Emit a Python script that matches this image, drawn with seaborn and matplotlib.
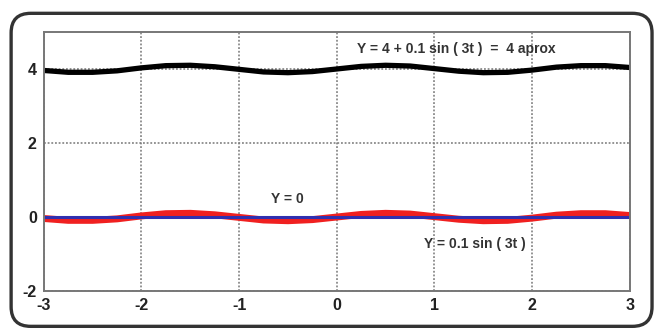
import numpy as np
import pandas as pd
import matplotlib
matplotlib.use("Agg")
import matplotlib.pyplot as plt
import seaborn as sns
from matplotlib.patches import FancyBboxPatch

# values
t = [-3.0, -2.75, -2.5, -2.25, -2.0, -1.75, -1.5, -1.25, -1.0, -0.75, -0.5, -0.25,
     0.0, 0.25, 0.5, 0.75, 1.0, 1.25, 1.5, 1.75, 2.0, 2.25, 2.5, 2.75, 3.0]
y_small = [-0.04, -0.09, -0.09, -0.05, 0.03, 0.09, 0.10, 0.06, -0.01, -0.08, -0.10, -0.07,
           0.00, 0.07, 0.10, 0.08, 0.01, -0.06, -0.10, -0.09, -0.03, 0.05, 0.09, 0.09, 0.04]
y_big = [3.96, 3.91, 3.91, 3.95, 4.03, 4.09, 4.10, 4.06, 3.99, 3.92, 3.90, 3.93,
         4.00, 4.07, 4.10, 4.08, 4.01, 3.94, 3.90, 3.91, 3.97, 4.05, 4.09, 4.09, 4.04]
y_zero = [0.0] * len(t)

xticks = [-3, -2, -1, 0, 1, 2, 3]
yticks = [-2, 0, 2, 4]

df = pd.DataFrame({"t": t, "small": y_small, "big": y_big, "zero": y_zero})

sns.set_style("white")
plt.rcParams['font.family'] = ['Liberation Sans', 'DejaVu Sans']
plt.rcParams['axes.unicode_minus'] = False

fig = plt.figure(figsize=(6.54, 3.33), dpi=100)
ax = fig.add_axes([0.067, 0.126, 0.896, 0.778])

# rounded outer frame
frame = FancyBboxPatch((0.017, 0.02), 0.98, 0.94, boxstyle="round,pad=0,rounding_size=0.03",
                       transform=fig.transFigure, fill=False, edgecolor="#333333",
                       linewidth=2.4, mutation_aspect=1.96)
fig.patches.append(frame)

sns.lineplot(data=df, x="t", y="big", ax=ax, color="black", linewidth=3.8)
sns.lineplot(data=df, x="t", y="small", ax=ax, color="#f02020", linewidth=5)
sns.lineplot(data=df, x="t", y="zero", ax=ax, color="#3030b0", linewidth=2.2)

ax.set_xlim(-3, 3)
ax.set_ylim(-2, 5)
ax.set_xticks(xticks)
ax.set_yticks(yticks)
ax.set_xlabel("")
ax.set_ylabel("")
ax.grid(True, linestyle=(0, (1.2, 1.2)), color="#777777", linewidth=1.1)
ax.set_axisbelow(True)
ax.tick_params(length=0, pad=5, labelsize=11.5, labelcolor="#222222")
for lab in ax.get_xticklabels() + ax.get_yticklabels():
    lab.set_fontweight("bold")
for sp in ax.spines.values():
    sp.set_color("#777777")
    sp.set_linewidth(1.4)

txt = dict(fontsize=10, fontweight="bold", color="#333333", ha="center", va="center")
ax.text(1.22, 4.53, "Y = 4 + 0.1 sin ( 3t )  =  4 aprox", **txt)
ax.text(-0.51, 0.49, "Y = 0", **txt)
ax.text(1.41, -0.74, "Y = 0.1 sin ( 3t )", **txt)

fig.savefig("out.png", dpi=100)
